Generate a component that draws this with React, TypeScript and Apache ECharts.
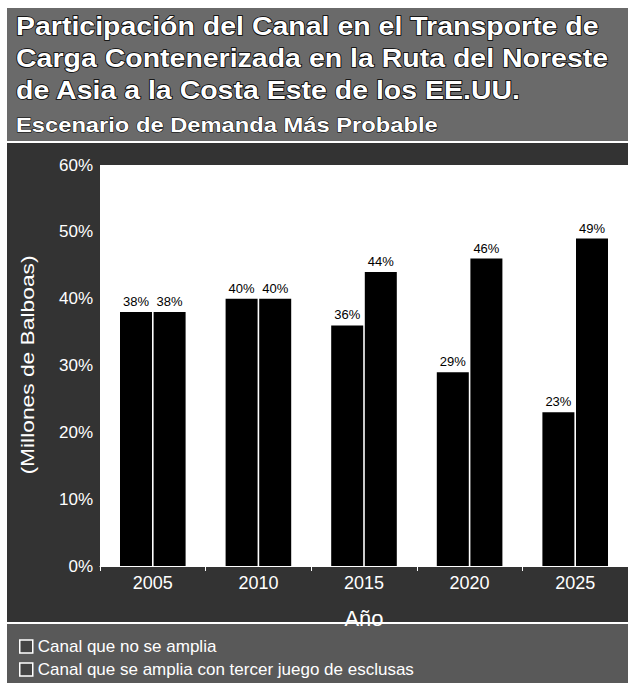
import React, { useEffect, useRef } from "react";
import * as echarts from "echarts";

const categories = ["2005", "2010", "2015", "2020", "2025"];
const seriesNames = ["Canal que no se amplia", "Canal que se amplia con tercer juego de esclusas"];
const noExpansion = [38, 40, 36, 29, 23];
const withExpansion = [38, 40, 44, 46, 49];
const titleLines = [
  "Participación del Canal en el Transporte de",
  "Carga Contenerizada en la Ruta del Noreste",
  "de Asia a la Costa Este de los EE.UU.",
];
const subtitle = "Escenario de Demanda Más Probable";
const yAxisTitle = "(Millones de Balboas)";
const xAxisTitle = "Año";

const SANS = "'Liberation Sans', Arial, sans-serif";

export default function App() {
  const ref = useRef<HTMLDivElement>(null);
  useEffect(() => {
    document.body.style.margin = "0";
    const chart = echarts.init(ref.current!, null, { renderer: "svg" });
    const labelCfg = {
      show: true,
      position: "top",
      distance: 4,
      formatter: "{c}%",
      color: "#000",
      fontSize: 13,
      fontFamily: SANS,
    };
    const titleStyle = {
      fill: "#fff",
      font: "bold 25px " + SANS,
      stroke: "#000",
      lineWidth: 1.5,
      verticalAlign: "middle",
    };
    const titleY = [27, 59, 91];
    chart.setOption({
      animation: false,
      backgroundColor: "#ffffff",
      graphic: [
        { type: "rect", z: -10, shape: { x: 7, y: 8, width: 630, height: 134 }, style: { fill: "#6a6a6a" } },
        { type: "rect", z: -10, shape: { x: 7, y: 142, width: 630, height: 481 }, style: { fill: "#333333" } },
        { type: "rect", z: -10, shape: { x: 7, y: 623, width: 630, height: 70 }, style: { fill: "#595959" } },
        { type: "line", shape: { x1: 7, y1: 142, x2: 628, y2: 142 }, style: { stroke: "#fff", lineWidth: 2 } },
        { type: "line", shape: { x1: 7, y1: 623, x2: 628, y2: 623 }, style: { stroke: "#fff", lineWidth: 2 } },
        ...titleLines.map((t, i) => ({
          type: "text",
          x: 16,
          y: titleY[i],
          scaleX: 1.14,
          style: { ...titleStyle, text: t },
        })),
        {
          type: "text",
          x: 16,
          y: 125,
          scaleX: 1.13,
          style: { ...titleStyle, font: "bold 21px " + SANS, lineWidth: 1, text: subtitle },
        },
        {
          type: "text",
          x: 27,
          y: 365,
          rotation: Math.PI / 2,
          scaleX: 1.2,
          style: {
            text: yAxisTitle,
            fill: "#fff",
            font: "19px " + SANS,
            align: "center",
            verticalAlign: "middle",
          },
        },
      ],
      legend: {
        orient: "vertical",
        left: 14,
        top: 633,
        itemGap: 6,
        itemWidth: 13,
        itemHeight: 13,
        icon: "rect",
        textStyle: { color: "#fff", fontSize: 17, fontFamily: SANS },
        data: seriesNames.map((n) => ({
          name: n,
          itemStyle: { color: "#444", borderColor: "#fff", borderWidth: 1.5 },
        })),
      },
      grid: {
        left: 100,
        right: -4,
        top: 165,
        bottom: 117,
        show: true,
        backgroundColor: "#fff",
        borderWidth: 0,
      },
      xAxis: {
        type: "category",
        data: categories,
        name: xAxisTitle,
        nameLocation: "middle",
        nameGap: 41,
        nameTextStyle: { color: "#fff", fontSize: 22, fontFamily: SANS },
        axisLine: { show: true, lineStyle: { color: "#fff", width: 1 } },
        axisTick: { show: true, length: 5, lineStyle: { color: "#fff" } },
        axisLabel: { color: "#fff", fontSize: 18, fontFamily: SANS, margin: 8 },
      },
      yAxis: {
        type: "value",
        min: 0,
        max: 60,
        interval: 10,
        axisLine: { show: false },
        axisTick: { show: false },
        splitLine: { show: false },
        axisLabel: {
          color: "#fff",
          fontSize: 17,
          fontFamily: SANS,
          formatter: "{value}%",
          margin: 7,
        },
      },
      series: [
        {
          name: seriesNames[0],
          type: "bar",
          data: noExpansion,
          barWidth: 32,
          barGap: "5%",
          itemStyle: { color: "#000" },
          label: labelCfg,
        },
        {
          name: seriesNames[1],
          type: "bar",
          data: withExpansion,
          barWidth: 32,
          itemStyle: { color: "#000" },
          label: labelCfg,
        },
      ],
    });
    return () => chart.dispose();
  }, []);
  return <div ref={ref} style={{ width: 628, height: 683 }} />;
}
